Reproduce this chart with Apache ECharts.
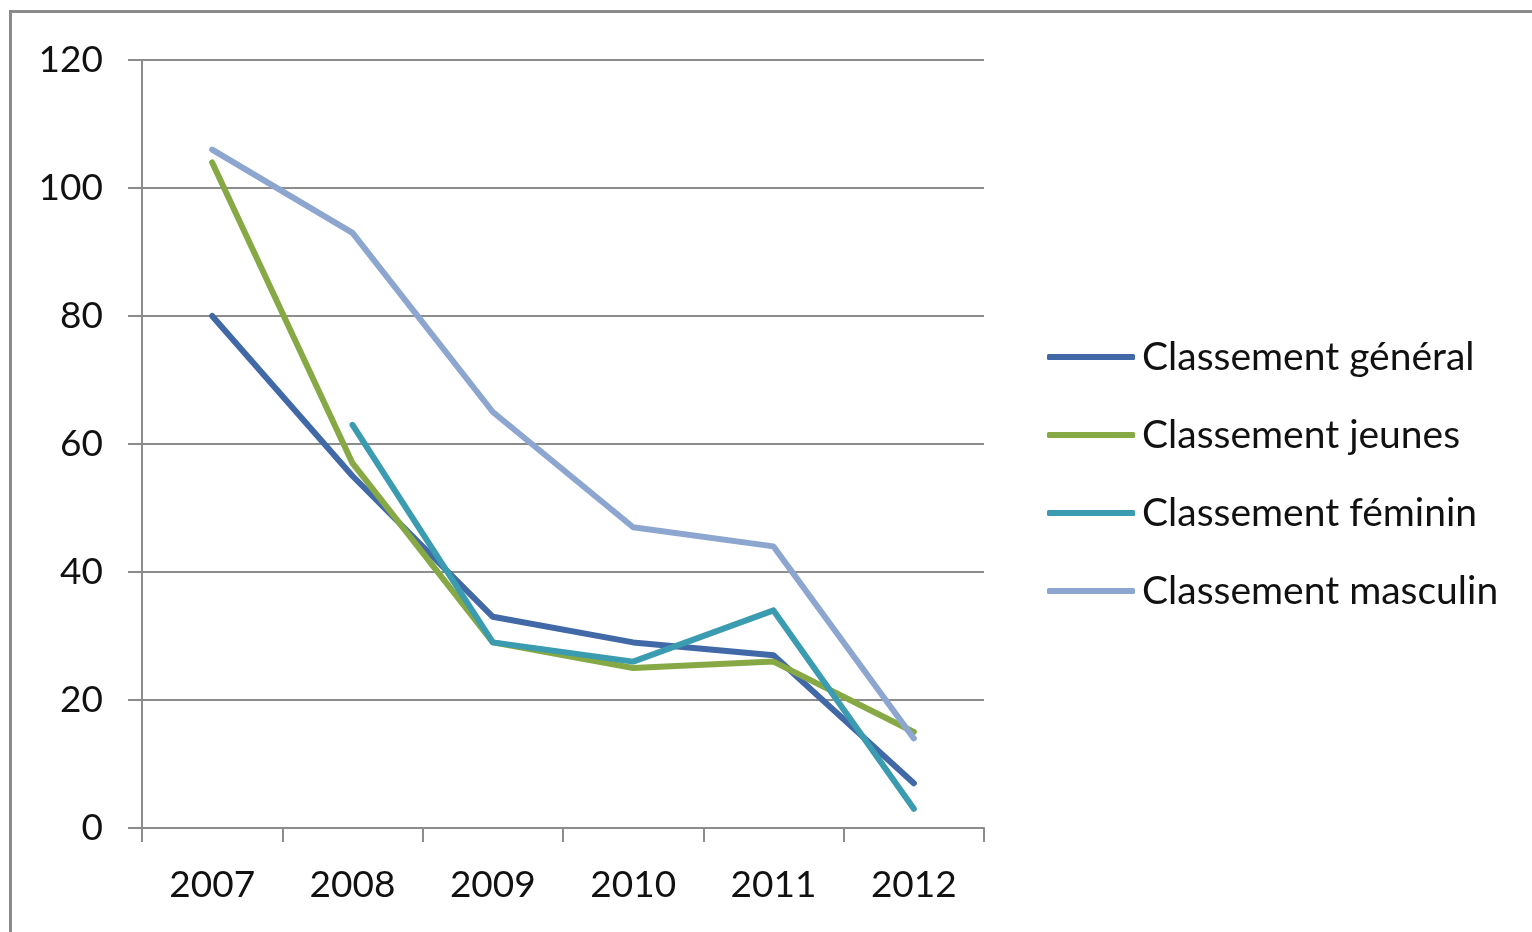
<!DOCTYPE html>
<html>
<head>
<meta charset="utf-8">
<script src="https://cdn.jsdelivr.net/npm/echarts@6/dist/echarts.min.js"></script>
<style>
html,body{margin:0;padding:0;background:#fff;}
#chart{width:1532px;height:932px;}
</style>
</head>
<body>
<div id="chart"></div>
<script>
const years = ['2007', '2008', '2009', '2010', '2011', '2012'];
const seriesNames = ['Classement général', 'Classement jeunes', 'Classement féminin', 'Classement masculin'];
const general = [80, 55, 33, 29, 27, 7];
const jeunes = [104, 57, 29, 25, 26, 15];
const feminin = [null, 63, 29, 26, 34, 3];
const masculin = [106, 93, 65, 47, 44, 14];
const yTicks = { min: 0, max: 120, interval: 20 };

const colors = ['#4169A7', '#86A845', '#3B9BB0', '#8DA6D0'];
const font = 'Lato, "Open Sans", sans-serif';
const gridColor = '#8c8c8c';

const chart = echarts.init(document.getElementById('chart'));
const dataSets = [general, jeunes, feminin, masculin];
chart.setOption({
  animation: false,
  backgroundColor: '#fff',
  color: colors,
  graphic: [{
    type: 'rect',
    shape: { x: 10.5, y: 11.5, width: 1600, height: 1000 },
    style: { fill: 'none', stroke: '#8a8a8a', lineWidth: 3 },
    silent: true
  }],
  grid: { left: 142, right: 548, top: 60, bottom: 104 },
  legend: {
    orient: 'vertical',
    left: 1042,
    top: 332,
    itemWidth: 88,
    itemHeight: 6,
    itemGap: 38,
    icon: 'roundRect',
    textStyle: { fontFamily: font, fontSize: 39, color: '#111', lineHeight: 40, padding: [0, 0, 0, 2] },
    data: seriesNames
  },
  xAxis: {
    type: 'category',
    data: years,
    boundaryGap: true,
    axisLine: { lineStyle: { color: gridColor, width: 2 } },
    axisTick: { show: true, length: 14, alignWithLabel: false, lineStyle: { color: gridColor, width: 2 } },
    axisLabel: { fontFamily: font, fontSize: 37, color: '#111', margin: 39 },
    splitLine: { show: false }
  },
  yAxis: {
    type: 'value',
    min: yTicks.min,
    max: yTicks.max,
    interval: yTicks.interval,
    axisLine: { show: true, lineStyle: { color: gridColor, width: 2 } },
    axisTick: { show: true, length: 14, lineStyle: { color: gridColor, width: 2 } },
    axisLabel: { fontFamily: font, fontSize: 37, color: '#111', margin: 39 },
    splitLine: { show: true, lineStyle: { color: gridColor, width: 2 } }
  },
  series: seriesNames.map((n, i) => ({
    name: n,
    type: 'line',
    data: dataSets[i],
    showSymbol: false,
    symbol: 'none',
    connectNulls: false,
    lineStyle: { width: 6, cap: 'round', join: 'round', color: colors[i] },
    itemStyle: { color: colors[i] }
  }))
});
</script>
</body>
</html>
